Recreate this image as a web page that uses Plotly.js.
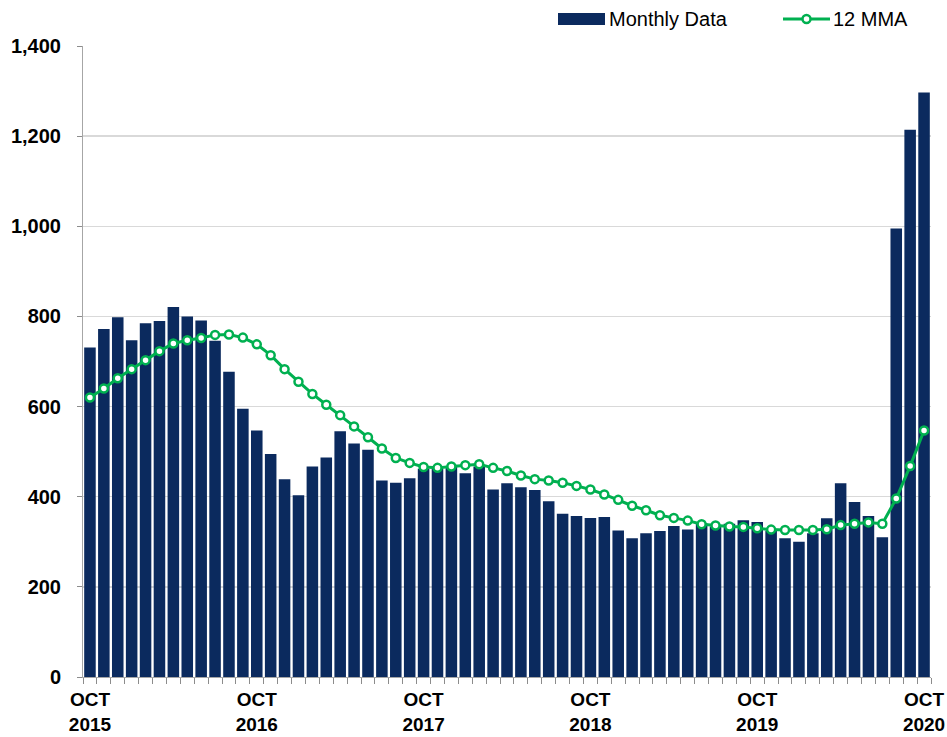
<!DOCTYPE html>
<html>
<head>
<meta charset="utf-8">
<script src="https://cdn.plot.ly/plotly-3.0.1.min.js"></script>
<style>html,body{margin:0;padding:0;background:#fff;}#chart{width:947px;height:737px;}</style>
</head>
<body>
<div id="chart"></div>
<script>
const monthNames = ["OCT","NOV","DEC","JAN","FEB","MAR","APR","MAY","JUN","JUL","AUG","SEP"];
const startYear = 2015;
const nMonths = 61;
const categories = [];
for (let i = 0; i < nMonths; i++) {
  const m = monthNames[i % 12];
  const y = startYear + Math.floor((i + 9) / 12);
  categories.push(m + " " + y);
}

const monthlyData = [
  731, 772, 798, 747, 785, 790, 821, 800, 791, 746, 677, 595, 547,
  495, 439, 403, 467, 487, 545, 518, 504, 436, 431, 441, 462,
  463, 466, 452, 467, 416, 430, 421, 415, 390, 362, 357, 353,
  355, 325, 308, 319, 324, 335, 327, 341, 334, 340, 348, 344,
  325, 308, 300, 319, 352, 430, 388, 357, 310, 995, 1214, 1297
];

const mma12 = [
  620, 640, 663, 683, 703, 723, 740, 747, 752, 759, 760, 753, 738,
  714, 683, 655, 628, 604, 581, 556, 532, 507, 486, 475, 466,
  464, 467, 470, 472, 464, 457, 447, 439, 436, 431, 424, 416,
  405, 393, 380, 370, 359, 353, 347, 339, 336, 334, 333, 330,
  327, 326, 326, 326, 328, 337, 340, 343, 340, 396, 468, 547
];

const yTickVals = [0, 200, 400, 600, 800, 1000, 1200, 1400];
const seriesNames = ["Monthly Data", "12 MMA"];

// month index positions along the axis, one per category
const xIdx = categories.map((c, i) => i);
const labelIdx = xIdx.filter(i => categories[i].startsWith("OCT"));
const labelText = labelIdx.map(i => categories[i].replace(" ", "<br>"));

const navy = "#0b2a5e";
const green = "#00b050";
const fontFam = "Liberation Sans, Arial, sans-serif";

const traces = [
  {
    type: "bar", name: seriesNames[0], x: xIdx, y: monthlyData,
    customdata: categories,
    marker: {color: navy, line: {width: 0}}, showlegend: false
  },
  {
    type: "scatter", mode: "lines+markers", name: seriesNames[1], x: xIdx, y: mma12,
    customdata: categories,
    line: {color: green, width: 3},
    marker: {symbol: "circle", size: 8, color: "#ffffff", line: {color: green, width: 2.5}},
    showlegend: false, cliponaxis: false
  }
];

const L = 83, W = 848, B = 677, H = 631;
const px = v => (v - L) / W;
const py = v => (B - v) / H;

const layout = {
  width: 947, height: 737,
  margin: {l: 83, r: 16, t: 46, b: 60},
  paper_bgcolor: "#ffffff", plot_bgcolor: "#ffffff",
  bargap: 0.17,
  showlegend: false,
  font: {family: fontFam, color: "#000000"},
  xaxis: {
    type: "linear",
    range: [-0.5, xIdx.length - 0.5],
    tickmode: "array", tickvals: labelIdx, ticktext: labelText,
    ticks: "outside", ticklen: 5, tickwidth: 1, tickcolor: "rgba(0,0,0,0)",
    minor: {tickmode: "linear", tick0: -0.5, dtick: 1, ticks: "outside", ticklen: 6,
            tickcolor: "#8c8c8c", tickwidth: 1, showgrid: false},
    showline: true, linecolor: "#a6a6a6", linewidth: 1,
    showgrid: false, zeroline: false, tickangle: 0,
    tickfont: {family: fontFam, size: 19, color: "#000000", weight: "bold"},
    ticklabelstandoff: 0,
    fixedrange: true
  },
  yaxis: {
    range: [0, 1400],
    tickmode: "array", tickvals: yTickVals,
    tickformat: ",d",
    ticks: "outside", ticklen: 5, tickcolor: "#8c8c8c",
    showline: true, linecolor: "#a6a6a6", linewidth: 1,
    showgrid: true, gridcolor: "#d9d9d9", gridwidth: 1.5,
    zeroline: false,
    tickfont: {family: fontFam, size: 20, color: "#000000", weight: "bold"},
    ticklabelstandoff: 12,
    fixedrange: true
  },
  shapes: [
    {type: "rect", xref: "paper", yref: "paper", x0: px(558), x1: px(605), y0: py(25), y1: py(13),
     fillcolor: navy, line: {width: 0}},
    {type: "line", xref: "paper", yref: "paper", x0: px(783), x1: px(830), y0: py(19), y1: py(19),
     line: {color: green, width: 3}},
    {type: "circle", xref: "paper", yref: "paper", xsizemode: "pixel", ysizemode: "pixel",
     xanchor: px(806.5), yanchor: py(19), x0: -4, x1: 4, y0: -4, y1: 4,
     fillcolor: "#ffffff", line: {color: green, width: 2.5}}
  ],
  annotations: [
    {xref: "paper", yref: "paper", x: px(607), y: py(19), xanchor: "left", yanchor: "middle",
     text: seriesNames[0], showarrow: false, font: {family: fontFam, size: 20, color: "#000000"}},
    {xref: "paper", yref: "paper", x: px(831), y: py(19), xanchor: "left", yanchor: "middle",
     text: seriesNames[1], showarrow: false, font: {family: fontFam, size: 20, color: "#000000"}}
  ]
};

Plotly.newPlot("chart", traces, layout, {displayModeBar: false, staticPlot: true});
</script>
</body>
</html>
